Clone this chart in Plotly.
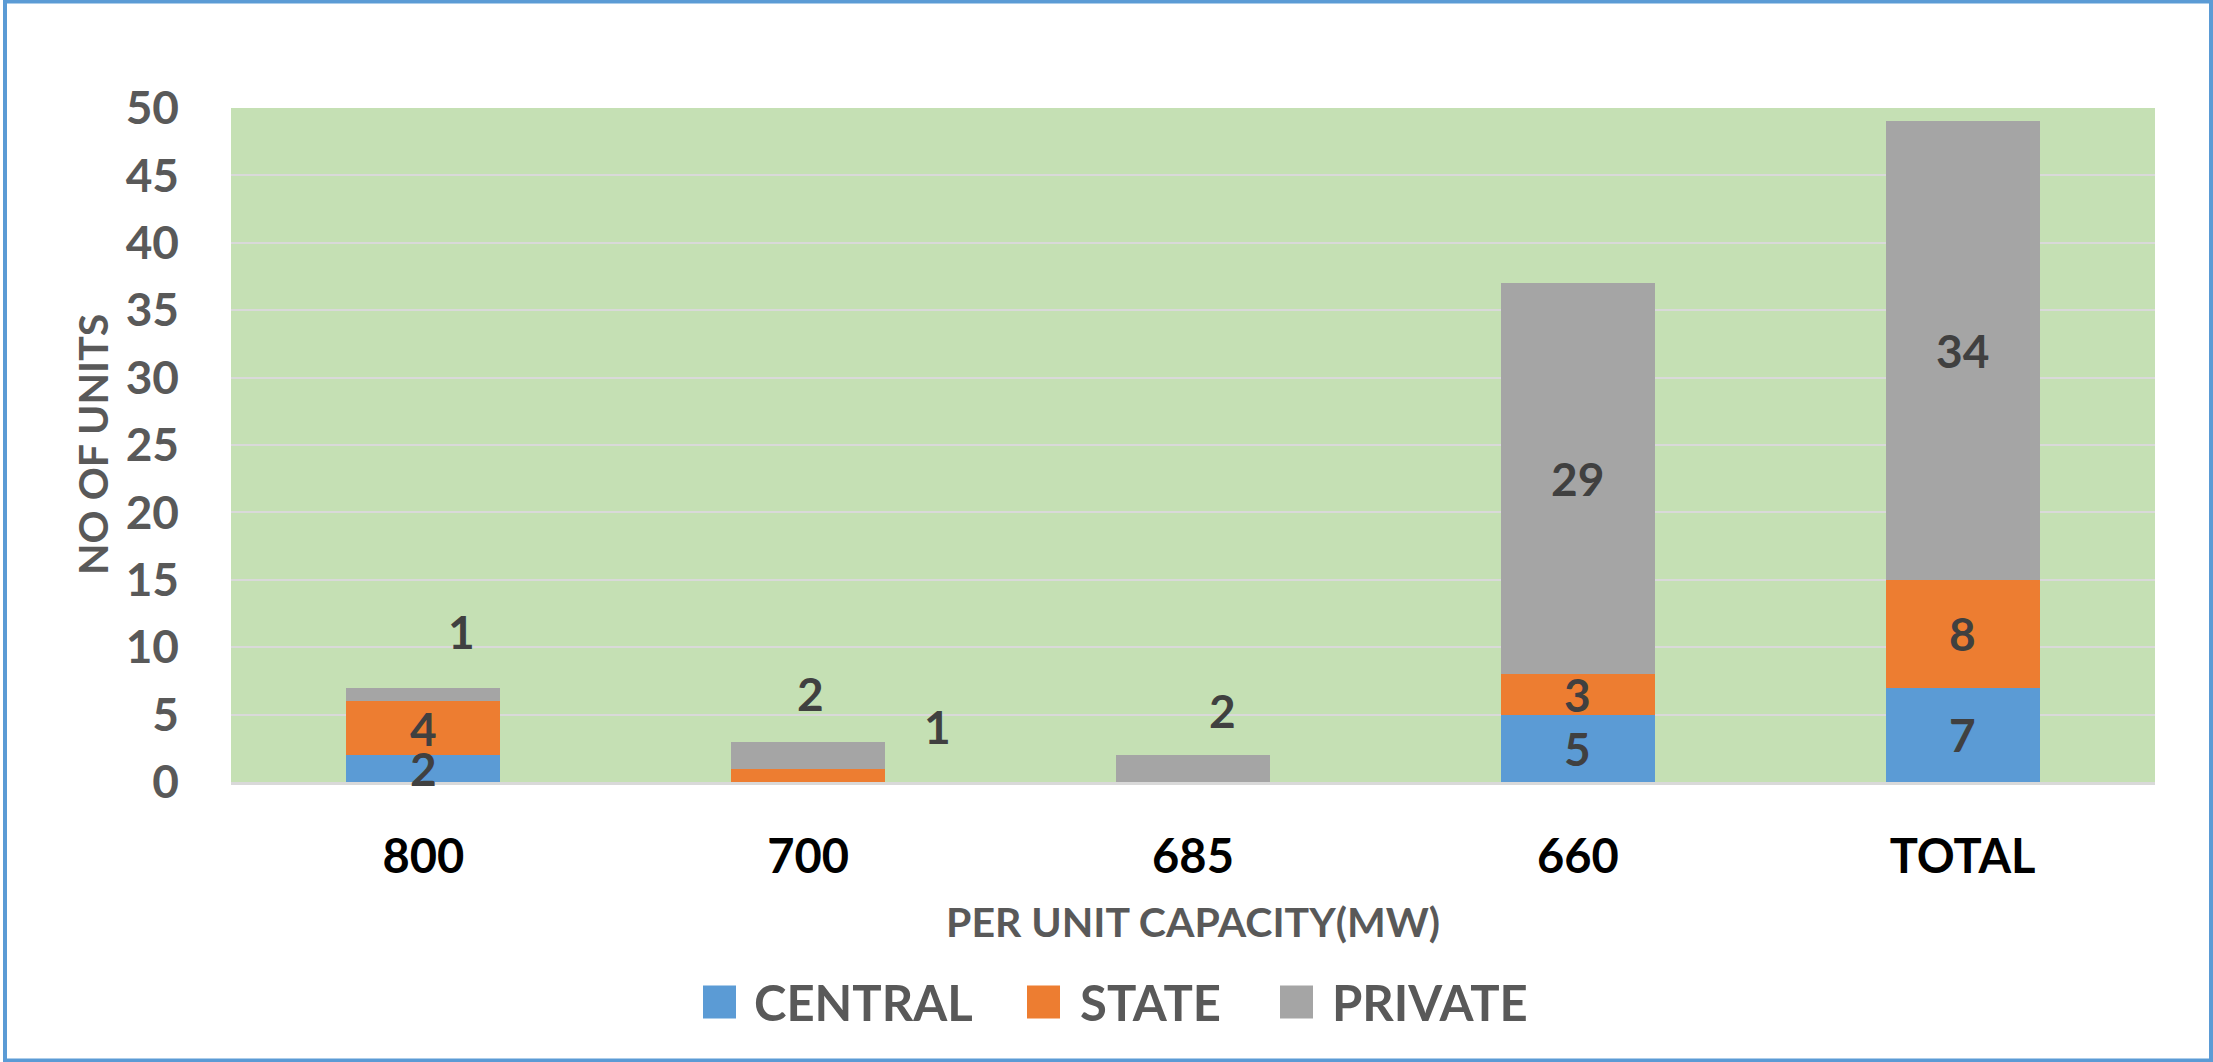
import plotly.graph_objects as go

# ---- data -------------------------------------------------------------
categories = ["800", "700", "685", "660", "TOTAL"]
series_names = ["CENTRAL", "STATE", "PRIVATE"]
central = [2, 0, 0, 5, 7]
state = [4, 1, 0, 3, 8]
private = [1, 2, 2, 29, 34]
y_ticks = [0, 5, 10, 15, 20, 25, 30, 35, 40, 45, 50]

series_values = [central, state, private]
colors = ["#5B9BD5", "#ED7D31", "#A5A5A5"]

# Data labels that sit outside their (small) segment: pixel nudges
label_nudge = {
    ("PRIVATE", "800"): (38, 63),
    ("PRIVATE", "700"): (2, 62),
    ("STATE", "700"): (129, 49),
    ("PRIVATE", "685"): (29, 58),
}

# ---- page geometry ------------------------------------------------------
W, H = 2213, 1062
L, R, T, B = 231, 58, 108, 280
PW, PH = W - L - R, H - T - B


def px(xp):
    return (xp - L) / PW


def py(yp):
    return (H - B - yp) / PH


FONT = "Lato"
GREY_TXT = "#595959"
LABEL_TXT = "#404040"

fig = go.Figure()
for name, vals, col in zip(series_names, series_values, colors):
    fig.add_trace(go.Bar(
        name=name, x=categories, y=vals,
        marker=dict(color=col, line=dict(width=0)),
        showlegend=False, hoverinfo="x+y+name",
    ))

# data labels at segment centres (category index used as x position)
annotations = []
for i, cat in enumerate(categories):
    base = 0
    for name, vals in zip(series_names, series_values):
        v = vals[i]
        if v > 0:
            dx, dy = label_nudge.get((name, cat), (0, 0))
            annotations.append(dict(
                x=i, y=base + v / 2, xref="x", yref="y",
                text=str(v), showarrow=False, xshift=dx, yshift=dy,
                font=dict(family=FONT, size=46, color=LABEL_TXT, weight=700),
            ))
        base += v

# axis titles
annotations.append(dict(
    x=px(92), y=0.5, xref="paper", yref="paper", text="NO OF UNITS",
    textangle=-90, showarrow=False, xanchor="center", yanchor="middle",
    font=dict(family=FONT, size=41, color=GREY_TXT, weight=700),
))
annotations.append(dict(
    x=0.5, y=py(921), xref="paper", yref="paper", text="PER UNIT CAPACITY(MW)",
    showarrow=False, xanchor="center", yanchor="middle",
    font=dict(family=FONT, size=41, color=GREY_TXT, weight=700),
))

# legend built from squares and labels
shapes = []
legend_x = [(703, 752), (1027, 1078), (1280, 1330)]
sq = 33
leg_cy = 1002
for (sx, tx), name, col in zip(legend_x, series_names, colors):
    shapes.append(dict(
        type="rect", xref="paper", yref="paper",
        x0=px(sx), x1=px(sx + sq), y0=py(leg_cy + sq / 2), y1=py(leg_cy - sq / 2),
        fillcolor=col, line=dict(width=0),
    ))
    annotations.append(dict(
        x=px(tx), y=py(leg_cy), xref="paper", yref="paper", text=name,
        showarrow=False, xanchor="left", yanchor="middle",
        font=dict(family=FONT, size=49, color=GREY_TXT, weight=700),
    ))

# outer chart border
shapes.append(dict(
    type="rect", xref="paper", yref="paper",
    x0=px(5), x1=px(2211), y0=py(1060.5), y1=py(1.5),
    line=dict(color="#5B9BD5", width=4), fillcolor="rgba(0,0,0,0)", layer="above",
))

fig.update_layout(
    width=W, height=H,
    margin=dict(l=L, r=R, t=T, b=B, pad=0),
    barmode="stack", bargap=0.6,
    paper_bgcolor="white", plot_bgcolor="#C5E0B4",
    annotations=annotations, shapes=shapes,
    showlegend=False,
    xaxis=dict(
        type="category", categoryorder="array", categoryarray=categories,
        range=[-0.5, len(categories) - 0.5],
        showgrid=False, zeroline=False,
        showline=True, linecolor="#D9D9D9", linewidth=3,
        ticks="", ticklabelstandoff=32,
        tickfont=dict(family=FONT, size=47, color="#000000", weight=700),
    ),
    yaxis=dict(
        range=[0, 50], tickvals=y_ticks, ticktext=[str(t) for t in y_ticks],
        showgrid=True, gridcolor="#D9D9D9", gridwidth=2,
        zeroline=False, showline=False, ticks="", ticklabelstandoff=51,
        tickfont=dict(family=FONT, size=46, color=GREY_TXT, weight=700),
    ),
)

fig.write_html("out.html")
